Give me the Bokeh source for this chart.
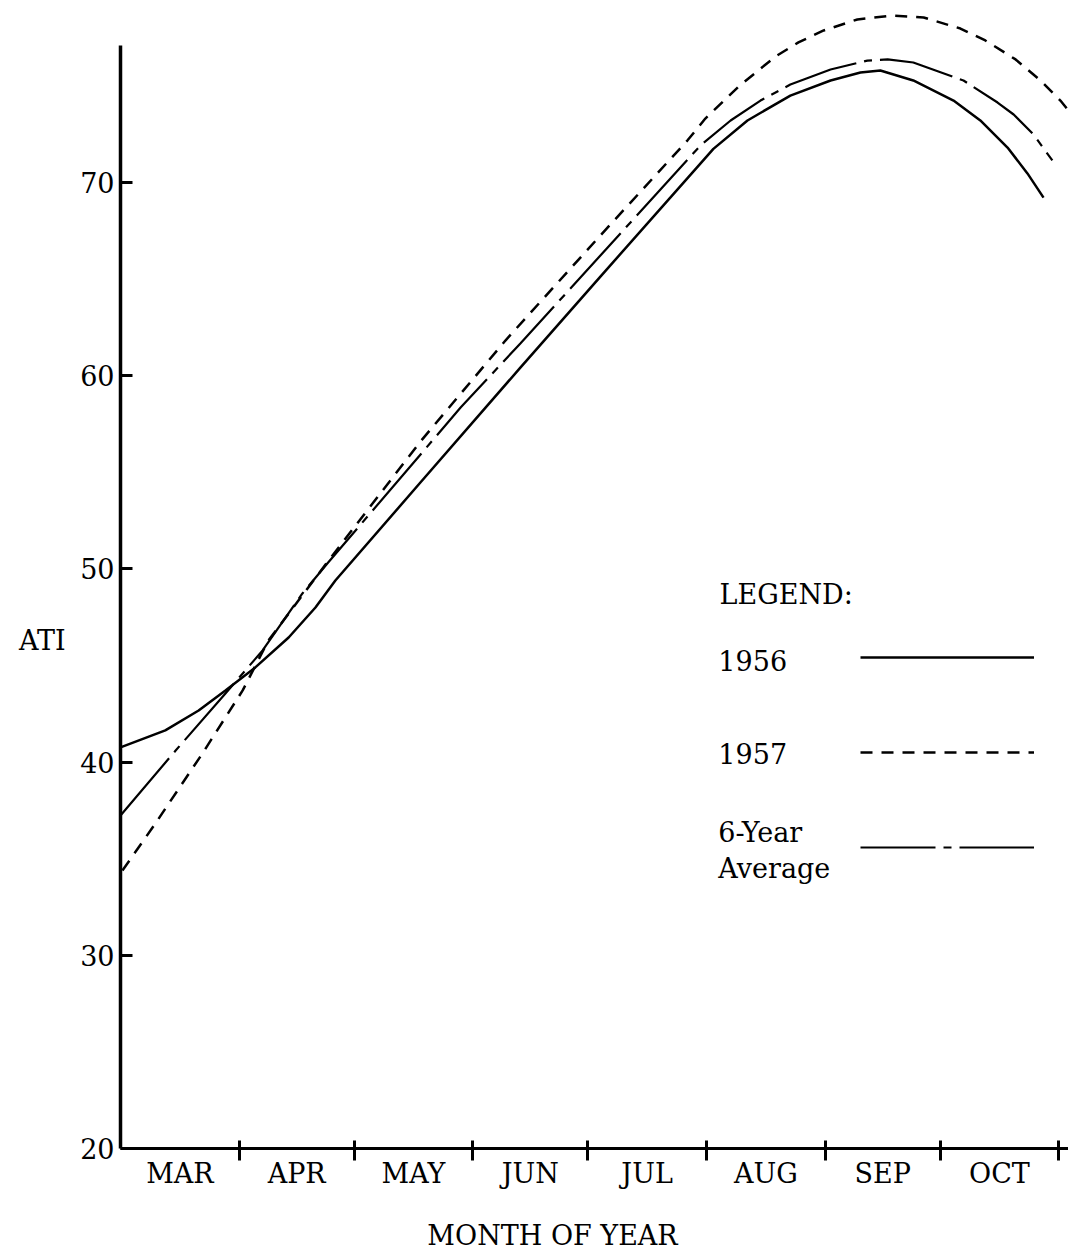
from bokeh.plotting import figure
from bokeh.models import Range1d, FixedTicker, Label, Legend, LegendItem
from bokeh.embed import file_html
from bokeh.resources import INLINE

# ---- data -------------------------------------------------------------
months = ["MAR", "APR", "MAY", "JUN", "JUL", "AUG", "SEP", "OCT"]
month_edges = [0, 31, 61, 92, 122, 153, 184, 214, 245]   # days since 1 March
y_ticks = [20, 30, 40, 50, 60, 70]

# 1956 (solid)
day_1956 = [0, 11.7, 20.4, 27.4, 35.2, 43.9, 50.9, 56.1, 78.3, 104.4, 125.3,
            151.4, 154.8, 163.7, 174.9, 185.4, 193.2, 198.4, 207.0, 217.5,
            224.5, 231.6, 236.8, 241.0]
ati_1956 = [40.76, 41.64, 42.67, 43.71, 44.90, 46.45, 48.00, 49.40, 54.47,
            60.42, 65.13, 70.98, 71.74, 73.21, 74.50, 75.28, 75.69, 75.80,
            75.28, 74.24, 73.21, 71.81, 70.47, 69.22]

# 1957 (dashed)
day_1957 = [0.5, 9.1, 21.4, 31.9, 38.6, 54.3, 78.3, 100.5, 125.3, 148.0,
            152.7, 161.4, 171.0, 177.0, 183.6, 192.4, 201.6, 209.7, 219.3,
            225.8, 233.7, 240.2, 245.4, 247.5]
ati_1957 = [34.39, 36.82, 40.45, 43.71, 46.29, 50.43, 56.59, 61.82, 67.26,
            72.17, 73.31, 74.97, 76.52, 77.25, 77.87, 78.44, 78.64, 78.54,
            77.97, 77.35, 76.37, 75.28, 74.24, 73.73]

# 6-year average (long dash - short dash)
day_avg = [0, 14.4, 27.4, 37.1, 47.5, 54.0, 88.8, 104.4, 125.3, 151.4, 159.3,
           167.1, 174.9, 185.4, 195.0, 200.3, 207.0, 220.1, 229.0, 233.2,
           238.4, 243.3]
ati_avg = [37.24, 40.60, 43.55, 45.78, 48.73, 50.28, 58.35, 61.67, 66.22,
           71.91, 73.21, 74.24, 75.07, 75.85, 76.31, 76.37, 76.21, 75.28,
           74.14, 73.52, 72.48, 71.14]

# ---- figure -----------------------------------------------------------
FONT = "DejaVu Serif"
FS = "27px"
W, H = 1068, 1250
px_per_day = 3.83
px_per_unit = 19.32
x0_px, y20_px = 120, 1148          # where day 0 / ATI 20 sit on the page

x_lo = -x0_px / px_per_day
x_hi = (W - x0_px) / px_per_day
y_hi = 20 + y20_px / px_per_unit
y_lo = 20 - (H - y20_px) / px_per_unit

p = figure(width=W, height=H, output_backend="svg", toolbar_location=None,
           x_range=Range1d(x_lo, x_hi), y_range=Range1d(y_lo, y_hi),
           min_border_left=0, min_border_right=0, min_border_top=0,
           min_border_bottom=0)
p.outline_line_color = None
p.xgrid.visible = False
p.ygrid.visible = False
p.background_fill_color = "white"
p.border_fill_color = "white"

r56 = p.line(day_1956, ati_1956, line_color="black", line_width=2.5)
r57 = p.line(day_1957, ati_1957, line_color="black", line_width=2.5,
             line_dash="12 9")
ravg = p.line(day_avg, ati_avg, line_color="black", line_width=2.2,
              line_dash="75 8 8 8")

# x axis: month boundaries as minor ticks, month names at mid-month
mids = [(a + b) / 2 for a, b in zip(month_edges[:-1], month_edges[1:])]
xa = p.xaxis[0]
xa.fixed_location = 20
xa.bounds = (0, x_hi)
xa.ticker = FixedTicker(ticks=mids, minor_ticks=month_edges[1:])
xa.major_label_overrides = {m: name for m, name in zip(mids, months)}
xa.major_tick_in = 0
xa.major_tick_out = 0
xa.minor_tick_in = 8
xa.minor_tick_out = 12
xa.minor_tick_line_width = 3
xa.minor_tick_line_color = "black"
xa.axis_line_width = 3
xa.axis_line_color = "black"
xa.major_label_standoff = -3
xa.major_label_text_font = FONT
xa.major_label_text_font_size = FS
xa.major_label_text_color = "black"

ya = p.yaxis[0]
ya.fixed_location = 0
ya.ticker = FixedTicker(ticks=y_ticks, minor_ticks=[])
ya.bounds = (20, 77.09)
ya.major_tick_in = 12
ya.major_tick_out = 0
ya.major_tick_line_width = 3
ya.major_tick_line_color = "black"
ya.minor_tick_in = 0
ya.minor_tick_out = 0
ya.axis_line_width = 3.5
ya.axis_line_color = "black"
ya.major_label_standoff = 6
ya.major_label_text_font = FONT
ya.major_label_text_font_size = FS
ya.major_label_text_color = "black"

def lab(x, y, t, align="left"):
    p.add_layout(Label(x=x, y=y, text=t, text_font=FONT, text_font_size=FS,
                       text_color="black", text_baseline="middle",
                       text_align=align))

lab(-20.4, 46.29, "ATI", "center")
lab(112.8, 15.50, "MONTH OF YEAR", "center")
lab(156.4, 48.67, "LEGEND:")
lab(156.1, 45.26, "1956")
lab(156.1, 40.44, "1957")
lab(156.1, 36.36, "6-Year")
lab(156.1, 34.49, "Average")

# legend keys only (names are written to their left, as in the original)
legend = Legend(items=[LegendItem(label=" ", renderers=[r56]),
                       LegendItem(label=" ", renderers=[r57]),
                       LegendItem(label=" ", renderers=[ravg])],
                location=(860, H - 857), orientation="vertical",
                glyph_width=174, glyph_height=20, label_height=20,
                label_width=0, label_standoff=0, spacing=75,
                padding=0, margin=0, border_line_alpha=0,
                background_fill_alpha=0)
p.add_layout(legend)

open("out.html", "w").write(file_html(p, INLINE))
